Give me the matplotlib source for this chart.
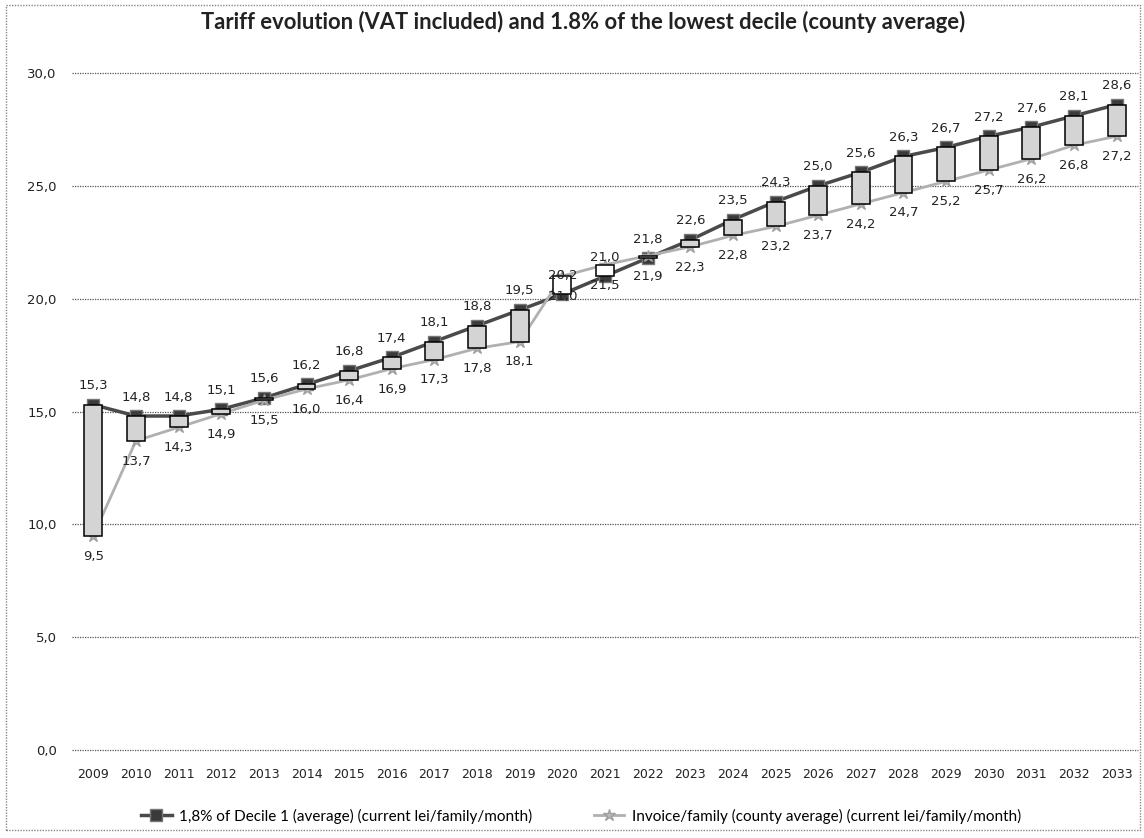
import numpy as np
import matplotlib.pyplot as plt
from matplotlib.patches import Rectangle

# Data
years = [str(y) for y in range(2009, 2034)]
decile = [15.3, 14.8, 14.8, 15.1, 15.6, 16.2, 16.8, 17.4, 18.1, 18.8, 19.5, 20.2, 21.0,
          21.8, 22.6, 23.5, 24.3, 25.0, 25.6, 26.3, 26.7, 27.2, 27.6, 28.1, 28.6]
invoice = [9.5, 13.7, 14.3, 14.9, 15.5, 16.0, 16.4, 16.9, 17.3, 17.8, 18.1, 21.0, 21.5,
           21.9, 22.3, 22.8, 23.2, 23.7, 24.2, 24.7, 25.2, 25.7, 26.2, 26.8, 27.2]
yticks = [0, 5, 10, 15, 20, 25, 30]

title = 'Tariff evolution (VAT included) and 1.8% of the lowest decile (county average)'
lab_decile = '1,8% of Decile 1 (average) (current lei/family/month)'
lab_invoice = 'Invoice/family (county average) (current lei/family/month)'

plt.rcParams['font.family'] = ['Lato', 'DejaVu Sans']

fig = plt.figure(figsize=(11.44, 8.38), dpi=100)
ax = fig.add_axes([72/1144, 1 - 750/838, 1066/1144, (750 - 73)/838])

x = np.arange(len(years))
d = np.array(decile)
v = np.array(invoice)

# lines with markers
ax.plot(x, d, color='#4a4a4a', lw=2.5, marker='s', ms=8, mfc='#3a3a3a', mec='#777777',
        zorder=2, label=lab_decile)
ax.plot(x, v, color='#b0b0b0', lw=2, marker='*', ms=9, mfc='#b8b8b8', mec='#a0a0a0',
        zorder=2, label=lab_invoice)

# up/down bars
low = np.minimum(d, v)
high = np.maximum(d, v)
cols = ['#d4d4d4' if dv > vv else 'white' for dv, vv in zip(d, v)]
ax.bar(x, high - low, bottom=low, width=0.42, color=cols, edgecolor='black', lw=1.1, zorder=3)

# data labels
for i in range(len(x)):
    ax.annotate(f'{decile[i]:.1f}'.replace('.', ','), (x[i], d[i]), xytext=(0, 9),
                textcoords='offset points', ha='center', va='bottom', fontsize=9.5,
                family='DejaVu Sans', color='#222222', zorder=5)
    ax.annotate(f'{invoice[i]:.1f}'.replace('.', ','), (x[i], v[i]), xytext=(0, -10),
                textcoords='offset points', ha='center', va='top', fontsize=9.5,
                family='DejaVu Sans', color='#222222', zorder=5)

ax.set_xlim(-0.5, len(years) - 0.5)
ax.set_ylim(0, 30)
ax.set_yticks(yticks)
ax.set_yticklabels([f'{t:.1f}'.replace('.', ',') for t in yticks], family='DejaVu Sans', fontsize=9.5)
ax.set_xticks(x)
ax.set_xticklabels(years, fontsize=9, family='DejaVu Sans')
ax.tick_params(length=0, pad=11, colors='#222222')
ax.tick_params(axis='x', pad=13)
ax.grid(axis='y', linestyle=(0, (1, 1)), color='#555555', lw=0.9)
ax.set_axisbelow(True)
for gl in ax.get_ygridlines():
    gl.set_clip_on(False)
for s in ax.spines.values():
    s.set_visible(False)

fig.text(583/1144, 1 - 22/838, title, ha='center', va='center', fontsize=15.8, fontweight='bold',
         color='#222222')

fig.legend(loc='center', bbox_to_anchor=(581/1144, 1 - 816/838), ncol=2, frameon=False,
           fontsize=11, columnspacing=4.0, handlelength=2.0, handletextpad=0.5)

# chart border
fig.patches.append(Rectangle((6/1144, 0.01), 1134/1144, 1 - 0.01 - 5/838, transform=fig.transFigure,
                             fill=False, ec='#888888', lw=1, ls=(0, (1, 1))))

fig.savefig('out.png', dpi=100)
